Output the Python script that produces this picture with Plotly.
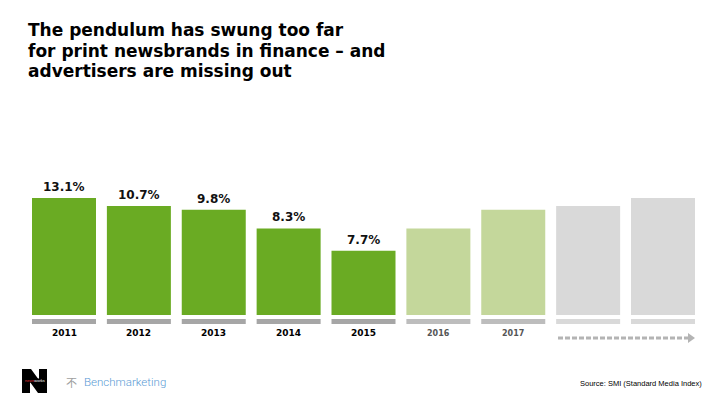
import plotly.graph_objects as go

# ---- data ----
years = ["2011", "2012", "2013", "2014", "2015", "2016", "2017", "", ""]
value_labels = ["13.1%", "10.7%", "9.8%", "8.3%", "7.7%", "", "", "", ""]
# visual bar heights (same scale as the 13.1% bar)
bar_heights = [13.1, 12.2, 11.8, 9.7, 7.2, 9.7, 11.8, 12.2, 13.1]
bar_colors = ["#6AAB23"] * 5 + ["#C4D79B"] * 2 + ["#D9D9D9"] * 2
strip_colors = ["#A6A6A6"] * 5 + ["#BDBDBD"] * 2 + ["#D9D9D9"] * 2
year_colors = ["#000000"] * 5 + ["#555555"] * 2 + ["#000000"] * 2
title_lines = ["The pendulum has swung too far",
               "for print newsbrands in finance – and",
               "advertisers are missing out"]

OFF = 8                       # page body margin
W, H = 720 - 2 * OFF, 405 - 2 * OFF
pitch = 74.875
x0px = 64 - OFF
ppu = 8.93                    # pixels per height unit
zero_px = 315 - OFF           # pixel row of bar bottoms


def px(x):
    return (x - OFF) / W


def py(y):
    return 1 - (y - OFF) / H


xs = list(range(len(bar_heights)))
xr = [-x0px / pitch, (W - x0px) / pitch]
yr = [-(H - zero_px) / ppu, zero_px / ppu]

fig = go.Figure()
fig.add_trace(go.Bar(x=xs, y=bar_heights, marker=dict(color=bar_colors, line=dict(width=0)),
                     width=64 / pitch, hoverinfo="skip"))
# grey strips under each bar
fig.add_trace(go.Bar(x=xs, y=[5 / ppu] * len(xs), base=[-9 / ppu] * len(xs),
                     marker=dict(color=strip_colors, line=dict(width=0)),
                     width=64 / pitch, hoverinfo="skip"))

BOLD = "DejaVu Sans"
ann = []
for i, (h, lab) in enumerate(zip(bar_heights, value_labels)):
    if lab:
        ann.append(dict(x=i, y=h, xref="x", yref="y", text="<b>" + lab + "</b>", showarrow=False,
                        xanchor="center", yanchor="bottom", yshift=2,
                        font=dict(family=BOLD, size=12, color="#111111")))
for i, (yl, c) in enumerate(zip(years, year_colors)):
    if yl:
        small = i >= 5
        ann.append(dict(x=i, y=-18 / ppu, xref="x", yref="y", text="<b>" + yl + "</b>", showarrow=False,
                        xanchor="center", yanchor="middle",
                        font=dict(family=BOLD, size=8 if small else 9, color=c)))

# title, one annotation per line
for k, line in enumerate(title_lines):
    ann.append(dict(x=px(26), y=py(30 + 20.7 * k), xref="paper", yref="paper", xanchor="left",
                    yanchor="middle", align="left", showarrow=False, text="<b>" + line + "</b>",
                    font=dict(family=BOLD, size=17, color="#000000")))

# logos / source
ann.append(dict(x=px(34.5), y=py(380.5), xref="paper", yref="paper", xanchor="center", yanchor="middle",
                text="<span style='color:#E03030'>news</span>works", showarrow=False,
                font=dict(family="Liberation Sans, Arial", size=4, color="#FFFFFF")))
ann.append(dict(x=px(71), y=py(382), xref="paper", yref="paper", xanchor="center", yanchor="middle",
                text="不", showarrow=False,
                font=dict(family="Noto Sans CJK SC", size=11, color="#A0A0A0")))
ann.append(dict(x=px(82), y=py(382), xref="paper", yref="paper", text="Benchmarketing", showarrow=False,
                xanchor="left", yanchor="middle",
                font=dict(family="Roboto", size=11.5, weight=300, color="#5B9BD5")))
ann.append(dict(x=px(704), y=py(383), xref="paper", yref="paper",
                text="Source: SMI (Standard Media Index)", showarrow=False, xanchor="right", yanchor="middle",
                font=dict(family="Liberation Sans, Arial", size=7.5, color="#000000")))

npts = [(22, 369), (31, 369), (39, 380), (39, 369), (47, 369), (47, 393),
        (38, 393), (30, 382), (30, 393), (22, 393)]
npath = "M " + " L ".join(f"{px(a)} {py(b)}" for a, b in npts) + " Z"

shapes = [
    dict(type="path", xref="paper", yref="paper", path=npath,
         fillcolor="#000000", line=dict(width=0), layer="below"),
    dict(type="rect", xref="paper", yref="paper", x0=px(24), x1=px(45), y0=py(382.5), y1=py(378.5),
         fillcolor="#000000", line=dict(width=0), layer="below"),
    dict(type="line", xref="paper", yref="paper", x0=px(558), x1=px(688), y0=py(338), y1=py(338),
         line=dict(color="#B4B4B4", width=3, dash="5px,2px")),
    dict(type="path", xref="paper", yref="paper",
         path=f"M {px(688)} {py(333)} L {px(695)} {py(338)} L {px(688)} {py(343)} Z",
         fillcolor="#B4B4B4", line=dict(width=0)),
]

fig.update_layout(
    width=W, height=H, margin=dict(l=0, r=0, t=0, b=0),
    paper_bgcolor="white", plot_bgcolor="white",
    barmode="overlay", showlegend=False,
    xaxis=dict(range=xr, visible=False, fixedrange=True),
    yaxis=dict(range=yr, visible=False, fixedrange=True),
    annotations=ann, shapes=shapes,
)
fig.write_html("out.html")
